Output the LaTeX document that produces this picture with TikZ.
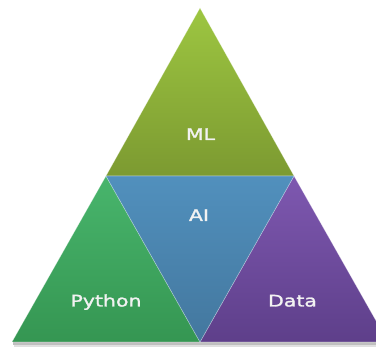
\documentclass[tikz,border=0pt]{standalone}
\usepackage{fontspec}
\newfontfamily\lblfont[FakeStretch=1.28, FakeBold=1.6]{DejaVu Sans}
\definecolor{mlTop}{HTML}{9DC641}
\definecolor{mlBot}{HTML}{7C9A31}
\definecolor{aiTop}{HTML}{5190BD}
\definecolor{aiBot}{HTML}{43779E}
\definecolor{pyTop}{HTML}{48B56C}
\definecolor{pyBot}{HTML}{359652}
\definecolor{daTop}{HTML}{7E58B0}
\definecolor{daBot}{HTML}{5E3F8A}
\definecolor{lblCol}{HTML}{F2F2F2}
\tikzset{
  piece/.style={draw=white, draw opacity=0.35, line width=0.6pt, line join=round},
  lbl/.style={font=\lblfont\fontsize{16}{19}\selectfont, text=lblCol, inner sep=0pt, anchor=base}
}
\begin{document}
\begin{tikzpicture}[x=1pt, y=-1pt]
  \useasboundingbox (0,0) rectangle (376,347);
  \clip (0,0) rectangle (376,347);
  % corner points of the big triangle and of its inner split
  \coordinate (apex) at (200,8);
  \coordinate (ml) at (106,176);
  \coordinate (mr) at (294,176);
  \coordinate (bl) at (12,342);
  \coordinate (br) at (388,342);
  \coordinate (bm) at (200,342);
  % soft shadow under the base
  \fill[black!25] (13,342) rectangle (376,345.5);
  \fill[black!12] (14,345.5) rectangle (376,347);
  % the four parts
  \shade[piece, top color=mlTop, bottom color=mlBot] (apex) -- (mr) -- (ml) -- cycle;
  \shade[piece, top color=pyTop, bottom color=pyBot] (ml) -- (bm) -- (bl) -- cycle;
  \shade[piece, top color=daTop, bottom color=daBot] (mr) -- (br) -- (bm) -- cycle;
  \shade[piece, top color=aiTop, bottom color=aiBot] (ml) -- (mr) -- (bm) -- cycle;
  % labels
  \node[lbl] (tML) at (200.5,140) {ML};
  \node[lbl] (tAI) at (199,221) {AI};
  \node[lbl] (tPy) at (106,306.5) {Python};
  \node[lbl] (tDa) at (292.5,306.5) {Data};
\end{tikzpicture}
\end{document}
